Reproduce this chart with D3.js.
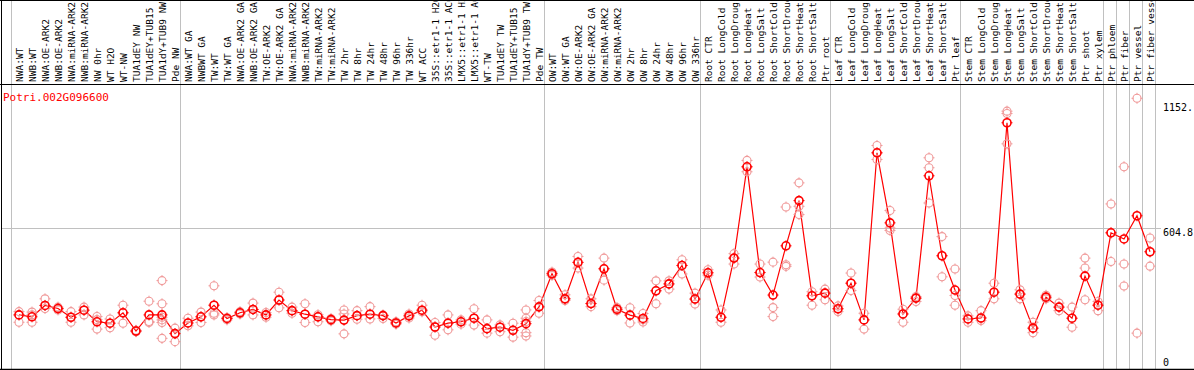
<!DOCTYPE html>
<html>
<head>
<meta charset="utf-8">
<script src="https://cdn.jsdelivr.net/npm/d3@7"></script>
<style>
  body { margin: 0; background: #fff; }
  svg { display: block; }
  text { font-family: "DejaVu Sans Mono", monospace; }
</style>
</head>
<body>
<div id="chart"></div>
<script>
// sample labels, one column each
var labels = [
  "NWA:WT","NWB:WT","NWA:OE-ARK2","NWB:OE-ARK2","NWA:miRNA-ARK2","NWB:miRNA-ARK2","NW 0hr","WT H2O","WT-NW","TUA1dEY NW","TUA1dEY+TUB15","TUA1dY+TUB9 NW","Pde NW",
  "NWA:WT GA","NWBWT GA","TW:WT","TW:WT GA","NWA:OE-ARK2 GA","NWB:OE-ARK2 GA","TW:OE-ARK2","TW:OE-ARK2 GA","NWA:miRNA-ARK2","NWB:miRNA-ARK2","TW:miRNA-ARK2","TW:miRNA-ARK2","TW 2hr","TW 8hr","TW 24hr","TW 48hr","TW 96hr","TW 336hr","WT ACC","35S::etr1-1 H2O","35S::etr1-1 ACC","LMX5::etr1-1 H2O","LMX5::etr1-1 ACC","WT-TW","TUA1dEY TW","TUA1dEY+TUB15","TUA1dY+TUB9 TW","Pde TW",
  "OW:WT","OW:WT GA","OW:OE-ARK2","OW:OE-ARK2 GA","OW:miRNA-ARK2","OW:miRNA-ARK2","OW 2hr","OW 8hr","OW 24hr","OW 48hr","OW 96hr","OW 336hr",
  "Root CTR","Root LongCold","Root LongDrought","Root LongHeat","Root LongSalt","Root ShortCold","Root ShortDrought","Root ShortHeat","Root ShortSalt","Ptr root",
  "Leaf CTR","Leaf LongCold","Leaf LongDrought","Leaf LongHeat","Leaf LongSalt","Leaf ShortCold","Leaf ShortDrought","Leaf ShortHeat","Leaf ShortSalt","Ptr leaf",
  "Stem CTR","Stem LongCold","Stem LongDrought","Stem LongHeat","Stem LongSalt","Stem ShortCold","Stem ShortDrought","Stem ShortHeat","Stem ShortSalt","Ptr shoot","Ptr xylem",
  "Ptr phloem","Ptr fiber","Ptr vessel","Ptr fiber vessel"
];

// index of the first column of each block (gray separators)
var groupStarts = [0, 13, 41, 53, 63, 73, 84, 85, 86, 87];

// mean expression per column
var means = [
  237,229,277,264,227,257,208,202,246,169,237,237,158,
  203,229,278,222,246,260,237,300,255,240,229,217,215,234,240,234,203,233,257,186,202,208,223,179,185,172,200,271,
  411,305,459,285,432,261,236,222,339,368,446,304,
  415,227,477,863,416,321,529,720,318,329,
  263,371,216,922,626,241,308,825,487,342,
  220,224,333,1049,325,181,312,270,223,401,278,
  584,558,656,504
];

// replicate values per column
var reps = [
  [251,237,206],[249,237,206],[305,277,264],[270,264,258],[251,227,206],[270,257,237],[230,217,177],[220,202,183],[278,246,202],[172,169,166],[295,209,205],[382,284,227,216,205,138],[181,158,124],
  [223,203,191],[249,229,205],[360,278,244,237],[226,222,216],[251,246,241],[287,260,237],[247,237,227],[333,300,267],[270,255,244],[284,240,205],[238,229,208],[222,217,212],[258,241,157],[255,234,219],[272,240,220],[237,233,222],[208,203,198],[241,233,224],[278,257,250],[205,186,151],[237,202,174],[216,208,198],[263,223,194],[216,179,160],[195,185,166],[202,172,143],[258,223,209,162,148],[298,271,244],
  [418,411,404],[322,305,298],[484,459,435],[305,285,272],[477,432,384],[268,261,255],[267,236,203],[243,216,207],[381,339,284],[381,368,346],[470,446,410],[329,304,283],
  [428,415,405],[258,227,206],[496,477,452],[890,863,842],[452,416,397],[460,268,230],[693,449,442],[795,696,661],[335,318,278],[346,329,301],
  [275,263,251],[414,371,340],[244,216,177],[953,922,894],[678,604,594],[261,241,206],[315,308,294],[901,859,710],[568,487,398],[431,319,278],
  [233,220,206],[255,224,213],[371,333,305],[1098,1088,960],[343,325,305],[206,181,162],[320,312,305],[287,270,255],[270,223,185],[477,435,301],[294,278,255],
  [706,584,463],[863,452,359],[1152.4,160],[562,504,443]
];

var geneName = "Potri.002G096600";
var tickValues = [0, 604.8, 1152.4];
var tickLabels = ["0", "604.8", "1152."];

var width = 1194, height = 370;
var headerBottom = 84.5, plotBottom = 369.5;

var svg = d3.select('#chart')
  .append('svg')
  .attr('width', width)
  .attr('height', height);

var x = d3.scaleBand()
  .domain(d3.range(labels.length))
  .range([11, 1155]);

var y = d3.scaleLinear()
  .domain([0, 1152.4])
  .range([371, 98.3]);

function cx(i) { return x(i) + 8; }

// gray column separators
var seps = groupStarts.map(function(i) { return x(i); }).concat([x(labels.length - 1) + x.bandwidth()]);
svg.selectAll('line.sep')
  .data(seps)
  .enter()
  .append('line')
    .attr('class', 'sep')
    .attr('x1', function(d) { return d + 0.5; })
    .attr('x2', function(d) { return d + 0.5; })
    .attr('y1', 0)
    .attr('y2', plotBottom)
    .style('stroke', '#c0c0c0');

// horizontal grid line at the middle tick
svg.append('line')
  .attr('x1', 1).attr('x2', 1161)
  .attr('y1', Math.round(y(604.8)) + 0.5)
  .attr('y2', Math.round(y(604.8)) + 0.5)
  .style('stroke', '#c0c0c0');

// frame
svg.append('line').attr('x1', 0).attr('x2', width).attr('y1', 0.5).attr('y2', 0.5).style('stroke', '#000');
svg.append('line').attr('x1', 0).attr('x2', width).attr('y1', headerBottom).attr('y2', headerBottom).style('stroke', '#000');
svg.append('line').attr('x1', 0).attr('x2', width).attr('y1', plotBottom).attr('y2', plotBottom).style('stroke', '#000').style('stroke-width', 1.5);
svg.append('line').attr('x1', 1.5).attr('x2', 1.5).attr('y1', 0).attr('y2', plotBottom).style('stroke', '#000');

// rotated column labels
svg.selectAll('text.lab')
  .data(labels)
  .enter()
  .append('text')
    .attr('class', 'lab')
    .attr('transform', function(d, i) { return 'translate(' + (cx(i) + 3.5) + ',82) rotate(-90)'; })
    .style('font-size', '9.5px')
    .style('fill', '#000')
    .text(function(d) { return d; });

// mean line
var line = d3.line()
  .x(function(d, i) { return cx(i); })
  .y(function(d) { return y(d); });

svg.append('path')
  .datum(means)
  .attr('d', line)
  .style('fill', 'none')
  .style('stroke', '#ff0000')
  .style('stroke-width', 1.2);

function marker(sel, color, sw) {
  sel.append('circle')
    .attr('r', 4)
    .style('fill', 'none')
    .style('stroke', color)
    .style('stroke-width', sw);
  sel.append('path')
    .attr('d', 'M0,-5.5V-3.5M0,3.5V5.5M-5.5,0H-3.5M3.5,0H5.5')
    .style('stroke', color)
    .style('stroke-width', 1);
}

// replicates
var repPts = [];
reps.forEach(function(r, i) { r.forEach(function(v) { repPts.push({i: i, v: v}); }); });

svg.selectAll('g.rep')
  .data(repPts)
  .enter()
  .append('g')
    .attr('class', 'rep')
    .attr('transform', function(d) { return 'translate(' + cx(d.i) + ',' + y(d.v) + ')'; })
    .call(marker, '#f09a9a', 1.1);

// means
svg.selectAll('g.mean')
  .data(means)
  .enter()
  .append('g')
    .attr('class', 'mean')
    .attr('transform', function(d, i) { return 'translate(' + cx(i) + ',' + y(d) + ')'; })
    .call(marker, '#ff0000', 1.6);

// gene name
svg.append('text')
  .attr('x', 3)
  .attr('y', 101)
  .style('font-size', '11px')
  .style('fill', '#ff0000')
  .text(geneName);

// right value labels
var axis = svg.append('g')
  .attr('transform', 'translate(1160,0)')
  .call(d3.axisRight(y).tickValues(tickValues).tickSize(0)
    .tickFormat(function(d, i) { return tickLabels[i]; }));
axis.select('.domain').remove();
axis.selectAll('text')
  .attr('x', 3)
  .attr('dy', function(d, i) { return [-5.5, 7.5, 12][i]; })
  .style('font-size', '10px')
  .style('font-family', '"DejaVu Sans Mono", monospace')
  .style('fill', '#000');
</script>
</body>
</html>
